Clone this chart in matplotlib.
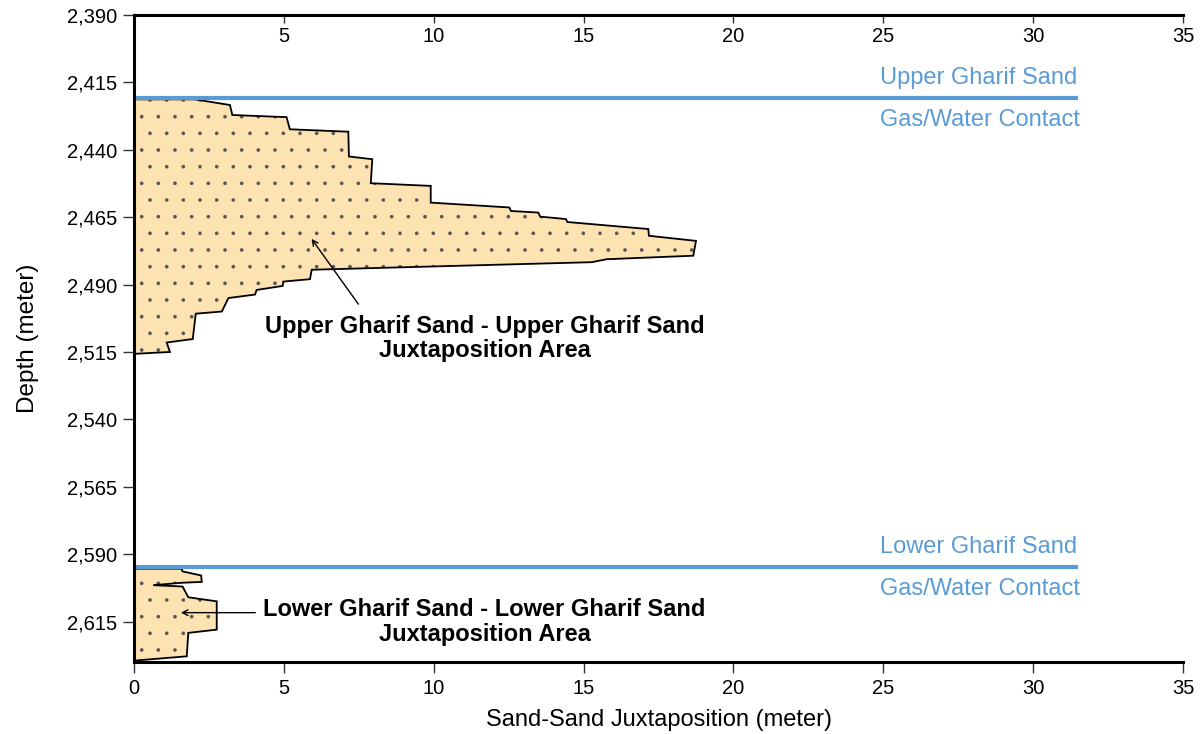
import matplotlib
matplotlib.use("Agg")
import matplotlib.pyplot as plt
from matplotlib.ticker import FuncFormatter

plt.rcParams["font.family"] = ["Liberation Sans", "DejaVu Sans"]
plt.rcParams["hatch.linewidth"] = 0.2

# upper sand-sand juxtaposition outline (x in m, depth in m)
upper_x = [0, 2.03, 3.2, 3.28, 5.09, 5.2, 7.15, 7.17, 7.95, 7.9, 9.9, 9.9,
           12.52, 12.58, 13.49, 13.55, 14.41, 14.46, 17.16, 17.18, 18.75, 18.66,
           15.77, 15.27, 5.93, 5.87, 4.98, 4.96, 4.09, 4.04, 3.15, 2.93, 2.06,
           1.96, 1.09, 1.2, 0]
upper_depth = [2421.3, 2421.3, 2423.4, 2427.1, 2427.9, 2432.4, 2433.3, 2442.5,
               2443.5, 2452.4, 2453.4, 2459.6, 2461.4, 2462.7, 2463.3, 2464.8,
               2465.7, 2466.8, 2469.4, 2471.9, 2473.8, 2479.3, 2480.6, 2481.7,
               2484.5, 2488.0, 2488.9, 2490.5, 2492.0, 2493.7, 2495.0, 2500.0,
               2500.8, 2510.2, 2511.5, 2515.0, 2515.7]

# lower sand-sand juxtaposition outline
lower_x = [0, 1.59, 1.62, 2.24, 2.26, 1.62, 0.64, 1.62, 1.81, 2.76, 2.76, 1.81, 1.76, 0]
lower_depth = [2595.4, 2595.4, 2596.4, 2597.9, 2600.3, 2600.6, 2601.5, 2602.0,
               2606.0, 2607.5, 2618.0, 2619.2, 2627.9, 2629.5]

# gas/water contacts
gwc_depth = [2420.8, 2594.6]
gwc_names = ["Upper Gharif Sand", "Lower Gharif Sand"]
gwc_xmax = 31.5

x_ticks = [0, 5, 10, 15, 20, 25, 30, 35]
top_ticks = [5, 10, 15, 20, 25, 30, 35]
y_ticks = [2390, 2415, 2440, 2465, 2490, 2515, 2540, 2565, 2590, 2615]

blue = "#5b9bd5"
sand = "#fde2b2"

fig = plt.figure(figsize=(12.03, 7.34), dpi=100)
ax = fig.add_axes([0.1114, 0.0981, 0.872, 0.8815])

for xs, ds in [(upper_x, upper_depth), (lower_x, lower_depth)]:
    # dotted sand fill (grey dots), then black outline on top
    ax.fill(xs, ds, facecolor=sand, edgecolor="#555555", lw=0, hatch=".")
    ax.fill(xs, ds, facecolor="none", edgecolor="black", lw=1.3)

for d, name in zip(gwc_depth, gwc_names):
    ax.plot([0, gwc_xmax], [d, d], color=blue, lw=3, solid_capstyle="butt")
    ax.annotate(name, (24.9, d), xytext=(0, 6.5), textcoords="offset points",
                color=blue, fontsize=17, va="bottom", ha="left")
    ax.annotate("Gas/Water Contact", (24.9, d), xytext=(0, -8), textcoords="offset points",
                color=blue, fontsize=17, va="top", ha="left")

ax.annotate("Upper Gharif Sand - Upper Gharif Sand\nJuxtaposition Area",
            xy=(5.87, 2472.2), xytext=(11.7, 2510.0), ha="center", va="center",
            fontsize=17, fontweight="bold", linespacing=1.1)
ax.annotate("", xy=(5.87, 2472.2), xytext=(7.54, 2498.1),
            arrowprops=dict(arrowstyle="->", color="black", lw=1))
ax.annotate("Lower Gharif Sand - Lower Gharif Sand\nJuxtaposition Area",
            xy=(1.47, 2611.7), xytext=(11.7, 2615.3), ha="center", va="center",
            fontsize=17, fontweight="bold", linespacing=1.1)
ax.annotate("", xy=(1.47, 2611.7), xytext=(4.14, 2611.7),
            arrowprops=dict(arrowstyle="->", color="black", lw=1))

ax.set_xlim(0, 35)
ax.set_ylim(2630, 2390)
ax.set_xticks(x_ticks)
ax.set_yticks(y_ticks)
ax.yaxis.set_major_formatter(FuncFormatter(lambda v, p: f"{v:,.0f}"))
ax.tick_params(axis="both", labelsize=14.5, length=8, width=1, color="#333333", pad=4)

ax.spines["right"].set_visible(False)
for s in ["left", "bottom", "top"]:
    ax.spines[s].set_linewidth(2.2)

top = ax.secondary_xaxis("top")
top.set_xticks(top_ticks)
top.tick_params(direction="in", length=6, width=1, color="#333333", labelsize=14.5, pad=-22)
top.spines["top"].set_visible(False)

ax.set_xlabel("Sand-Sand Juxtaposition (meter)", fontsize=17, labelpad=8)
ax.set_ylabel("Depth (meter)", fontsize=17.5, labelpad=20)

fig.savefig("out.png", dpi=100)
